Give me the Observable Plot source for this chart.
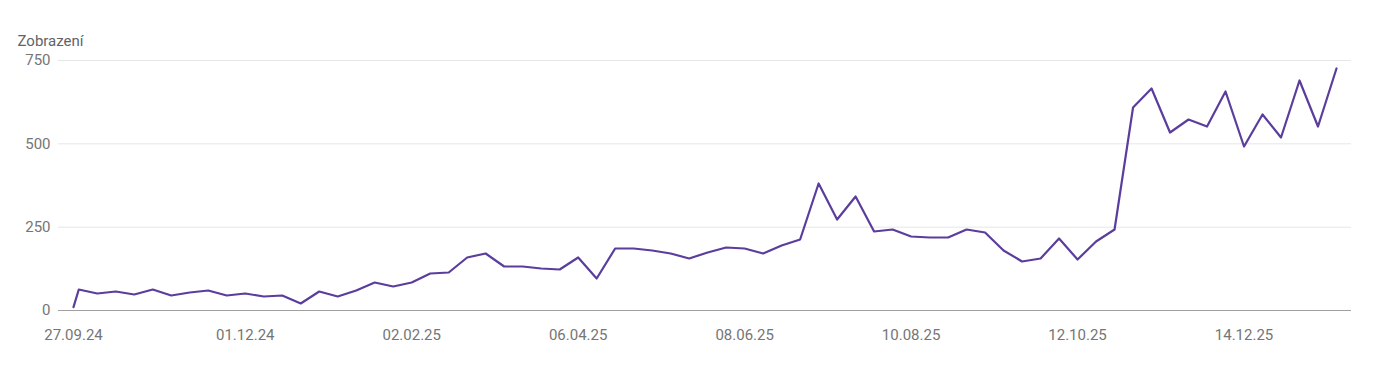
<!DOCTYPE html>
<html>
<head>
<meta charset="utf-8">
<script src="https://cdn.jsdelivr.net/npm/d3@7"></script>
<script src="https://cdn.jsdelivr.net/npm/@observablehq/plot@0.6"></script>
<style>
  html, body { margin: 0; padding: 0; background: #ffffff; }
  #chart { width: 1391px; height: 376px; }
</style>
</head>
<body>
<div id="chart"></div>
<script>
const dates = [
  "2024-09-27","2024-09-29","2024-10-06","2024-10-13","2024-10-20","2024-10-27",
  "2024-11-03","2024-11-10","2024-11-17","2024-11-24","2024-12-01","2024-12-08",
  "2024-12-15","2024-12-22","2024-12-29","2025-01-05","2025-01-12","2025-01-19",
  "2025-01-26","2025-02-02","2025-02-09","2025-02-16","2025-02-23","2025-03-02",
  "2025-03-09","2025-03-16","2025-03-23","2025-03-30","2025-04-06","2025-04-13",
  "2025-04-20","2025-04-27","2025-05-04","2025-05-11","2025-05-18","2025-05-25",
  "2025-06-01","2025-06-08","2025-06-15","2025-06-22","2025-06-29","2025-07-06",
  "2025-07-13","2025-07-20","2025-07-27","2025-08-03","2025-08-10","2025-08-17",
  "2025-08-24","2025-08-31","2025-09-07","2025-09-14","2025-09-21","2025-09-28",
  "2025-10-05","2025-10-12","2025-10-19","2025-10-26","2025-11-02","2025-11-09",
  "2025-11-16","2025-11-23","2025-11-30","2025-12-07","2025-12-14","2025-12-21",
  "2025-12-28","2026-01-04","2026-01-11","2026-01-18"
];
const views = [
  10, 63, 51, 57, 48, 63,
  45, 54, 60, 45, 51, 42,
  45, 21, 57, 42, 60, 84,
  72, 84, 111, 114, 159, 171,
  132, 132, 126, 123, 159, 96,
  186, 186, 180, 171, 156, 174,
  189, 186, 171, 195, 213, 381,
  273, 342, 237, 243, 222, 219,
  219, 243, 234, 180, 147, 156,
  216, 153, 207, 243, 609, 666,
  534, 573, 552, 657, 492, 588,
  519, 690, 552, 726
];
const xTickLabels = ["2024-09-27","2024-12-01","2025-02-02","2025-04-06","2025-06-08","2025-08-10","2025-10-12","2025-12-14"];
const yTicks = [0, 250, 500, 750];
const yLabel = "Zobrazení";

const parse = d3.utcParse("%Y-%m-%d");
const data = dates.map((d, i) => ({date: parse(d), value: views[i]}));
const fmt = d3.utcFormat("%d.%m.%y");

const chart = Plot.plot({
  width: 1391,
  height: 376,
  marginLeft: 58,
  marginRight: 40,
  marginTop: 60,
  marginBottom: 66,
  insetLeft: 15,
  insetRight: 15,
  style: {fontFamily: "Roboto, 'Noto Sans', sans-serif", fontSize: "15px", color: "#757575", background: "#ffffff"},
  x: {type: "utc", domain: d3.extent(data, d => d.date)},
  y: {domain: [0, 750], ticks: yTicks},
  marks: [
    Plot.gridY(yTicks, {stroke: "#e6e6e6", strokeOpacity: 1}),
    Plot.ruleY([0], {stroke: "#a0a0a0", strokeWidth: 1}),
    Plot.axisY(yTicks, {tickSize: 0, tickPadding: 8, fontSize: 15, fill: "#757575", label: null}),
    Plot.axisX(xTickLabels.map(parse), {tickSize: 0, tickPadding: 19, tickFormat: fmt, fontSize: 15, fill: "#757575", label: null}),
    Plot.text([yLabel], {frameAnchor: "top-left", text: d => d, textAnchor: "start", lineAnchor: "bottom", dx: -41, dy: -15, fontSize: 15, fill: "#5f6368"}),
    Plot.line(data, {x: "date", y: "value", stroke: "#5a3d9c", strokeWidth: 2.2, curve: "linear"})
  ]
});
document.getElementById("chart").appendChild(chart);
</script>
</body>
</html>
